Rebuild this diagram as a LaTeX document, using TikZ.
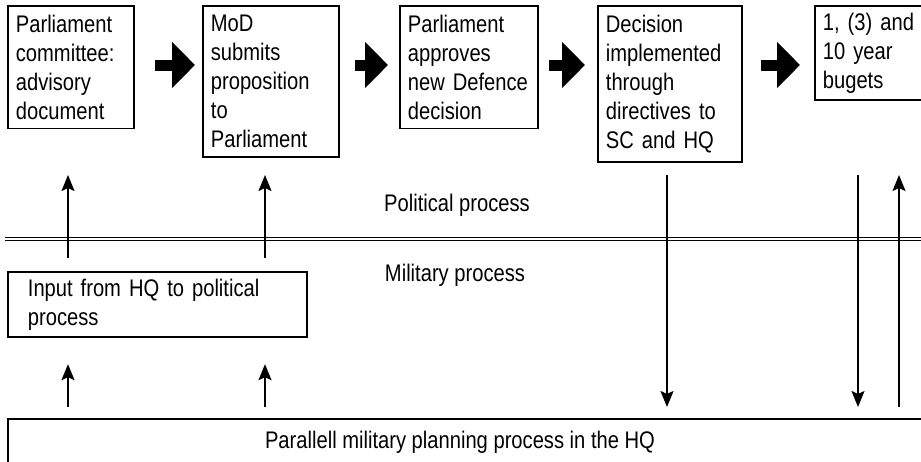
\documentclass[tikz,border=0pt]{standalone}
\usepackage{fontspec}
\setmainfont[FakeStretch=0.84]{Liberation Sans}
\usetikzlibrary{arrows.meta}

\tikzset{
  stage/.style={draw, line width=1.8pt, anchor=north west, align=left,
    inner xsep=8pt, inner ysep=9pt},
  fat/.style={line width=11pt, -{Triangle[length=23pt,width=45pt]}},
  flow/.style={line width=1.8pt, -{Stealth[length=16pt,width=13pt,inset=3pt]}},
}

\begin{document}
\begin{tikzpicture}[x=1pt, y=-1pt, font=\fontsize{24}{29}\selectfont]
    \useasboundingbox (0,0) rectangle (921,461);
    % political process
    \node[stage, text width=110pt] (p1) at (7,5) {Parliament\\committee:\\advisory\\document};
    \node[stage, text width=120pt] (p2) at (202,5) {MoD\\submits\\proposition\\to\\Parliament};
    \node[stage, text width=122pt] (p3) at (399,5) {Parliament\\approves\\new Defence\\decision};
    \node[stage, text width=128pt] (p4) at (597,5) {Decision\\implemented\\through\\directives to\\SC and HQ};
    \node[stage, text width=120pt, inner ysep=7pt] (p5) at (814,5) {1, (3) and\\10 year\\bugets};
    \coordinate (row) at (0,65);
    \draw[fat, shorten <=20pt, shorten >=7pt] (p1.east |- row) -- (p2.west |- row);
    \draw[fat, shorten <=15pt, shorten >=11pt] (p2.east |- row) -- (p3.west |- row);
    \draw[fat, shorten <=10pt, shorten >=12pt] (p3.east |- row) -- (p4.west |- row);
    \draw[fat, shorten <=18pt, shorten >=14pt] (p4.east |- row) -- (p5.west |- row);
    \node (pol) at (457,205) {Political process};
    \draw[double, line width=0.8pt, double distance=2pt] (5,239) -- (921,239);
    \node (mil) at (455,275) {Military process};
    % military process
    \node[stage, text width=259pt, inner xsep=20pt, inner ysep=7pt] (inp) at (7,271) {Input from HQ to political\\process};
    \node[stage, minimum width=940pt, minimum height=46pt] (hq) at (7,418) {};
    \node (plan) at ([xshift=453pt]hq.west) {Parallell military planning process in the HQ};
    \coordinate (c1) at (68,0);
    \coordinate (c2) at (265,0);
    \coordinate (c3) at (667,0);
    \coordinate (c4) at (858,0);
    \coordinate (c5) at (899,0);
    \coordinate (hi) at (0,175);
    \draw[flow, shorten <=13pt] (inp.north -| c1) -- (hi -| c1);
    \draw[flow, shorten <=13pt] (inp.north -| c2) -- (hi -| c2);
    \draw[flow, shorten <=11pt, shorten >=26pt] (hq.north -| c1) -- (inp.south -| c1);
    \draw[flow, shorten <=11pt, shorten >=26pt] (hq.north -| c2) -- (inp.south -| c2);
    \draw[flow, shorten >=11pt] (hi -| c3) -- (hq.north -| c3);
    \draw[flow, shorten >=11pt] (hi -| c4) -- (hq.north -| c4);
    \draw[flow, shorten <=11pt] (hq.north -| c5) -- (hi -| c5);
\end{tikzpicture}
\end{document}
